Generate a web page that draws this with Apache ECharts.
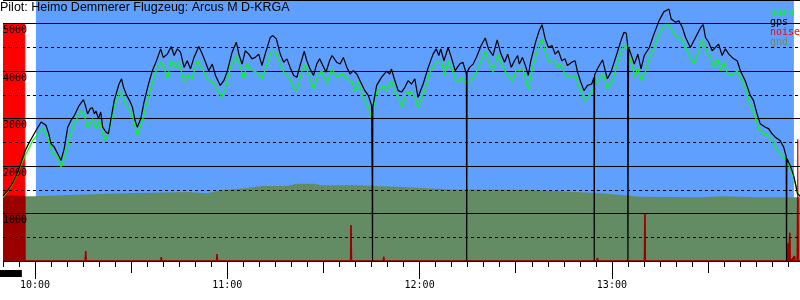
<!DOCTYPE html>
<html><head><meta charset="utf-8">
<script src="https://cdn.jsdelivr.net/npm/echarts@6/dist/echarts.min.js"></script>
<style>html,body{margin:0;padding:0;background:#fff}#c{width:800px;height:300px}</style>
</head><body><div id="c"></div>
<script>
const titleText = 'Pilot: Heimo Demmerer Flugzeug: Arcus M D-KRGA';
// time in minutes after 10:00
const timeMin = -10, timeMax = 238.7;
const hourTicks = [0, 60, 120, 180];
const hourLabels = ['10:00', '11:00', '12:00', '13:00'];
const halfTicks = [30, 90, 150, 210];
const altMax = 5500, noiseMax = 1100;
const flightSpan = [0.26, 236.8];
const engineSpan = [-10, -3.2];

const gpsTime = [-10.0,-8.5,-7.0,-5.4,-4.4,-3.2,-1.7,0.3,1.9,2.4,3.4,4.3,5.0,6.0,6.5,7.6,8.1,9.1,10.2,11.2,12.3,13.8,15.1,15.7,16.4,17.2,17.9,18.5,19.0,19.8,20.5,21.1,22.1,22.9,23.6,24.7,26.2,27.0,27.6,28.6,29.5,30.4,31.2,31.9,33.0,34.0,35.4,36.6,37.9,39.2,40.0,41.3,42.5,43.4,44.4,45.4,46.5,47.5,48.5,49.6,51.1,52.2,53.2,54.2,55.3,56.3,57.8,58.9,59.9,61.5,62.8,63.6,64.6,65.6,66.7,67.7,68.7,69.8,70.8,71.8,73.4,74.2,75.3,76.5,77.6,78.6,79.6,80.7,81.7,82.7,84.0,84.8,85.8,86.9,87.9,88.8,89.8,90.8,91.9,92.7,94.1,95.2,96.2,97.3,98.3,99.3,100.4,101.9,102.9,104.0,105.0,105.2,105.3,105.4,106.6,108.1,109.7,110.7,111.2,112.1,113.3,114.4,115.4,116.4,117.5,118.5,119.5,120.0,121.1,122.7,124.2,125.2,126.0,126.6,127.6,128.9,129.9,131.1,132.5,133.5,134.6,134.7,134.8,135.6,136.7,137.7,139.2,140.5,141.5,142.9,144.2,145.2,146.5,147.5,148.6,149.6,150.6,151.1,152.1,153.2,153.9,154.7,156.3,157.3,158.2,159.2,160.2,161.3,162.3,163.3,164.4,165.4,166.1,167.5,168.5,169.3,170.3,171.3,172.4,173.7,174.4,174.5,174.6,175.5,177.1,177.9,178.6,179.7,181.2,182.8,183.8,184.5,184.9,185.0,185.2,186.3,187.0,188.1,189.1,190.1,191.7,193.1,194.7,196.2,197.8,198.5,199.9,200.9,202.0,203.0,204.5,206.1,207.7,208.5,209.2,210.2,211.3,212.3,213.3,214.4,215.4,216.5,218.0,219.1,220.1,221.6,223.2,224.2,225.3,226.3,227.9,228.9,230.0,231.0,232.5,233.6,234.4,234.5,234.6,235.6,236.7,237.5,237.9,238.7];
const gpsAlt = [1370,1490,1640,1870,2060,2310,2510,2750,2930,2960,2860,2680,2470,2400,2370,2190,2120,2370,2820,2960,3070,3280,3400,3280,3100,3210,3230,3100,3160,3000,3140,2820,2720,2680,2960,3380,3730,3840,3660,3490,3380,3240,2960,2820,3000,3350,3730,4010,4220,4470,4290,4360,4520,4330,4470,4400,4080,4220,4050,4290,4520,4360,4190,4010,4150,3910,3700,3800,3980,4400,4610,4360,4150,4430,4360,4260,4290,4360,4120,4360,4710,4750,4680,4360,4190,4260,4080,3910,3870,4120,4420,4220,4050,3910,4150,4260,4120,3980,4220,4330,4190,4150,4290,4080,3940,4010,3940,3730,3590,3490,3280,1790,0,3250,3700,3870,4000,3940,4050,3840,3590,3560,3660,3800,3730,3840,3450,3420,3730,4080,4360,4470,4330,4470,4220,4500,4290,4010,4150,4190,3940,0,3980,4080,4150,4290,4540,4700,4470,4330,4660,4400,4190,4360,4080,4220,4330,4150,4290,4080,3910,4220,4640,4850,4980,4680,4500,4540,4360,4430,4220,4260,4120,4190,4220,3980,3770,3590,3700,3730,3870,0,3920,4050,4240,4010,3840,3980,4290,4640,4820,4800,4560,0,4500,4290,4150,4360,4050,4330,4500,4780,5060,5250,5310,5100,5030,5060,4920,4710,4500,4710,4920,4980,4710,4610,4430,4500,4570,4330,4470,4360,4260,4220,4010,3800,3490,3380,3100,2890,2820,2790,2680,2610,2540,2400,2200,0,2160,2020,1810,1560,1420,1370];

const baroTime = [-10.0,-8.5,-7.0,-5.4,-4.4,-3.3,-0.7,2.4,3.9,5.5,7.1,8.1,9.6,11.7,14.3,15.4,16.4,17.9,19.0,20.0,21.1,21.9,23.1,24.7,26.7,28.3,30.4,31.9,33.5,35.6,37.6,39.2,40.2,41.3,42.5,43.9,44.9,46.5,47.5,49.0,50.6,52.2,53.7,55.3,56.8,58.1,59.4,61.0,62.8,64.1,65.1,66.1,67.7,69.3,70.8,72.4,73.9,75.0,76.5,77.6,79.1,80.7,81.7,83.3,84.3,85.8,86.9,88.4,89.5,91.0,92.6,94.1,95.7,97.3,98.8,99.8,100.9,102.4,104.0,105.0,106.6,108.7,109.7,111.2,112.3,113.3,114.6,115.9,117.5,118.5,119.5,120.0,121.4,123.2,125.2,126.8,127.8,128.9,129.9,131.5,133.0,134.6,136.1,137.7,139.2,140.5,141.8,142.9,144.4,146.0,147.5,149.1,150.1,151.1,152.2,153.9,155.3,156.9,158.2,159.4,160.5,162.0,163.1,164.1,165.7,167.2,168.8,169.8,171.4,172.9,174.5,176.0,177.3,178.6,180.2,181.7,183.3,184.3,185.9,187.2,188.0,189.2,190.5,191.6,193.1,194.7,196.2,197.8,198.3,199.4,200.9,202.0,203.5,205.6,207.1,208.2,209.7,210.8,211.8,213.0,213.9,214.9,216.1,217.5,219.1,220.1,221.6,223.2,224.8,225.8,227.3,228.9,230.5,232.0,233.6,235.1,236.7,237.7,238.7];
const baroAlt = [1340,1470,1620,1850,2020,2190,2540,2790,2610,2260,2190,1980,2260,2820,3170,3070,2790,3000,2790,2960,2680,2540,2750,3240,3590,3310,3070,2650,2960,3520,3980,4190,4080,3840,4220,4080,4190,3770,3920,3840,4220,4050,3840,3770,3630,3450,3630,4080,4330,4080,3840,4150,4010,3980,3840,4150,4430,4400,4150,3980,3870,3660,3590,4010,4150,3840,3630,3940,4010,3730,4050,3870,3940,3840,3800,3570,3770,3450,3240,3030,3560,3700,3590,3800,3560,3450,3240,3560,3560,3450,3240,3210,3560,3980,4190,4220,3910,4220,4080,3770,3870,3700,3800,3980,4220,4420,4150,3980,4360,4080,3910,3770,4030,4010,4050,3630,4080,4470,4680,4360,4190,4220,4080,4150,3870,3910,3870,3660,3380,3490,3660,3840,3950,3630,3800,4150,4500,4560,4220,3870,4080,3800,4010,4260,4500,4780,4960,4980,4960,4780,4710,4640,4430,4150,4430,4680,4400,4290,4080,4260,4010,4190,3940,3910,4010,3870,3660,3280,3030,2790,2680,2650,2470,2300,2190,2050,1770,1490,1350];

const gndTime = [-10.0,-0.7,8.6,17.9,27.3,36.6,47.5,53.7,57.7,66.1,70.8,78.6,81.7,87.0,89.5,100.4,114.4,129.9,151.7,164.1,176.6,189.0,207.6,214.5,226.3,238.7];
const gndAlt = [1365,1365,1386,1407,1428,1440,1455,1428,1491,1540,1580,1580,1630,1630,1596,1596,1560,1505,1500,1470,1428,1355,1344,1365,1344,1344];

const noiseTime = [-10.0,-3.2,-3.15,15.65,15.8,15.95,39.25,39.4,39.55,56.65,56.8,56.95,84.65,84.8,84.95,98.45,98.6,98.75,98.95,99.1,99.25,108.65,108.8,108.95,110.75,110.9,111.05,175.35,175.5,175.65,190.15,190.3,190.45,234.85,235.0,235.15,235.35,235.5,235.65,236.15,236.3,236.45,236.85,237.0,237.15,237.85,238.0,238.15,238.7];
const noiseVal = [1000,1000,0,0,42,0,0,17,0,0,29,0,0,8,0,0,151,0,0,4,0,0,18,0,0,8,0,0,13,0,0,202,0,0,74,0,0,119,0,0,8,0,0,21,0,0,512,0,0];

function zip(a, b) { return a.map((v, i) => [v, b[i]]); }
function interp(ts, vs, t) {
  if (t <= ts[0]) return vs[0];
  for (let i = 1; i < ts.length; i++) {
    if (t <= ts[i]) { const f = (t - ts[i-1]) / (ts[i] - ts[i-1]); return vs[i-1] + f * (vs[i] - vs[i-1]); }
  }
  return vs[vs.length - 1];
}
const scale = altMax / noiseMax;
const overlap = noiseTime.map((t, i) => [t, Math.min(noiseVal[i] * scale, interp(gndTime, gndAlt, t))]);

const mono = 'DejaVu Sans Mono';
const chart = echarts.init(document.getElementById('c'), null, { renderer: 'canvas' });
const baseX = { type: 'value', min: timeMin, max: timeMax, gridIndex: 0, position: 'bottom', offset: 0,
  axisLine: { show: false }, splitLine: { show: false }, axisLabel: { show: false } };
chart.setOption({
  animation: false,
  backgroundColor: '#ffffff',
  title: { text: titleText, left: 0, top: 1, padding: 0,
    textStyle: { fontFamily: 'Liberation Sans', fontSize: 12.5, fontWeight: 'normal', color: '#000' } },
  legend: { orient: 'vertical', left: 760, top: 2, itemGap: 0, itemWidth: 0, itemHeight: 10, icon: 'none',
    selectedMode: false,
    textStyle: { fontFamily: mono, fontSize: 10, lineHeight: 10 },
    data: [
      { name: 'baro', textStyle: { color: '#00ff00' } },
      { name: 'gps', textStyle: { color: '#000000' } },
      { name: 'noise', textStyle: { color: '#ff0000' } },
      { name: 'gnd', textStyle: { color: '#6e8c5a' } }
    ] },
  grid: [
    { left: 0, right: 0, top: -1, height: 262 },
    { left: 0, right: 0, top: 270, height: 7 }
  ],
  xAxis: [
    Object.assign({}, baseX, { interval: 5, axisTick: { length: 6, lineStyle: { color: '#000', width: 1 } } }),
    Object.assign({}, baseX, { axisTick: { length: 12, customValues: halfTicks, lineStyle: { color: '#000', width: 1 } } }),
    Object.assign({}, baseX, { axisTick: { length: 18, customValues: hourTicks, lineStyle: { color: '#000', width: 1 } },
      axisLabel: { show: true, customValues: hourTicks, margin: 19, fontFamily: mono, fontSize: 10, color: '#000',
        formatter: v => hourLabels[hourTicks.indexOf(v)] || '' } }),
    { type: 'value', gridIndex: 1, min: timeMin, max: timeMax, show: false }
  ],
  yAxis: [
    { type: 'value', gridIndex: 0, min: 0, max: altMax, interval: 1000, z: 3,
      axisLine: { show: false }, axisTick: { show: false },
      splitLine: { show: true, lineStyle: { color: '#000', width: 1, type: 'solid' } },
      axisLabel: { inside: true, margin: 0, verticalAlign: 'top', padding: [2, 0, 0, 0], fontFamily: mono, fontSize: 10, color: '#000',
        formatter: v => (v > 0 && v % 1000 === 0) ? String(v) : '' } },
    { type: 'value', gridIndex: 0, min: 0, max: altMax, interval: 500, z: 3,
      axisLine: { show: false }, axisTick: { show: false }, axisLabel: { show: false },
      splitLine: { show: true, lineStyle: { color: '#000', width: 1, type: [3, 3] } } },
    { type: 'value', gridIndex: 0, min: 0, max: noiseMax, show: false, splitLine: { show: false } },
    { type: 'value', gridIndex: 1, min: 0, max: 1, show: false }
  ],
  series: [
    { name: 'flight', type: 'line', xAxisIndex: 0, yAxisIndex: 0, z: 0, symbol: 'none', silent: true,
      data: [[flightSpan[0], 0]], lineStyle: { opacity: 0 },
      markArea: { silent: true, itemStyle: { color: '#5fa0ff', opacity: 1 },
        data: [[{ xAxis: flightSpan[0] }, { xAxis: flightSpan[1] }]] } },
    { name: 'noise', type: 'line', xAxisIndex: 0, yAxisIndex: 2, z: 1, symbol: 'none', silent: true,
      data: zip(noiseTime, noiseVal), color: '#ff0000',
      lineStyle: { color: '#ff0000', width: 1 }, areaStyle: { color: '#ff0000', opacity: 1 } },
    { name: 'gnd', type: 'line', xAxisIndex: 0, yAxisIndex: 0, z: 1, symbol: 'none', silent: true,
      data: zip(gndTime, gndAlt), color: '#648c64',
      lineStyle: { width: 0 }, areaStyle: { color: '#648c64', opacity: 1 } },
    { name: 'noiseGnd', type: 'line', xAxisIndex: 0, yAxisIndex: 0, z: 2, symbol: 'none', silent: true, clip: false,
      data: overlap, lineStyle: { color: '#9a0000', width: 1.5 }, areaStyle: { color: '#9a0000', opacity: 1 } },
    { name: 'baro', type: 'line', xAxisIndex: 0, yAxisIndex: 0, z: 5, symbol: 'none', silent: true,
      data: zip(baroTime, baroAlt), color: '#00ff00', lineStyle: { color: '#00ff00', width: 1.2 } },
    { name: 'gps', type: 'line', xAxisIndex: 0, yAxisIndex: 0, z: 6, symbol: 'none', silent: true,
      data: zip(gpsTime, gpsAlt), color: '#000000', lineStyle: { color: '#000000', width: 1.2 } },
    { name: 'engine', type: 'line', xAxisIndex: 3, yAxisIndex: 3, symbol: 'none', silent: true,
      data: [[engineSpan[0], 0]], lineStyle: { opacity: 0 },
      markArea: { silent: true, itemStyle: { color: '#000', opacity: 1 },
        data: [[{ xAxis: engineSpan[0] }, { xAxis: engineSpan[1] }]] } }
  ]
});
</script></body></html>
